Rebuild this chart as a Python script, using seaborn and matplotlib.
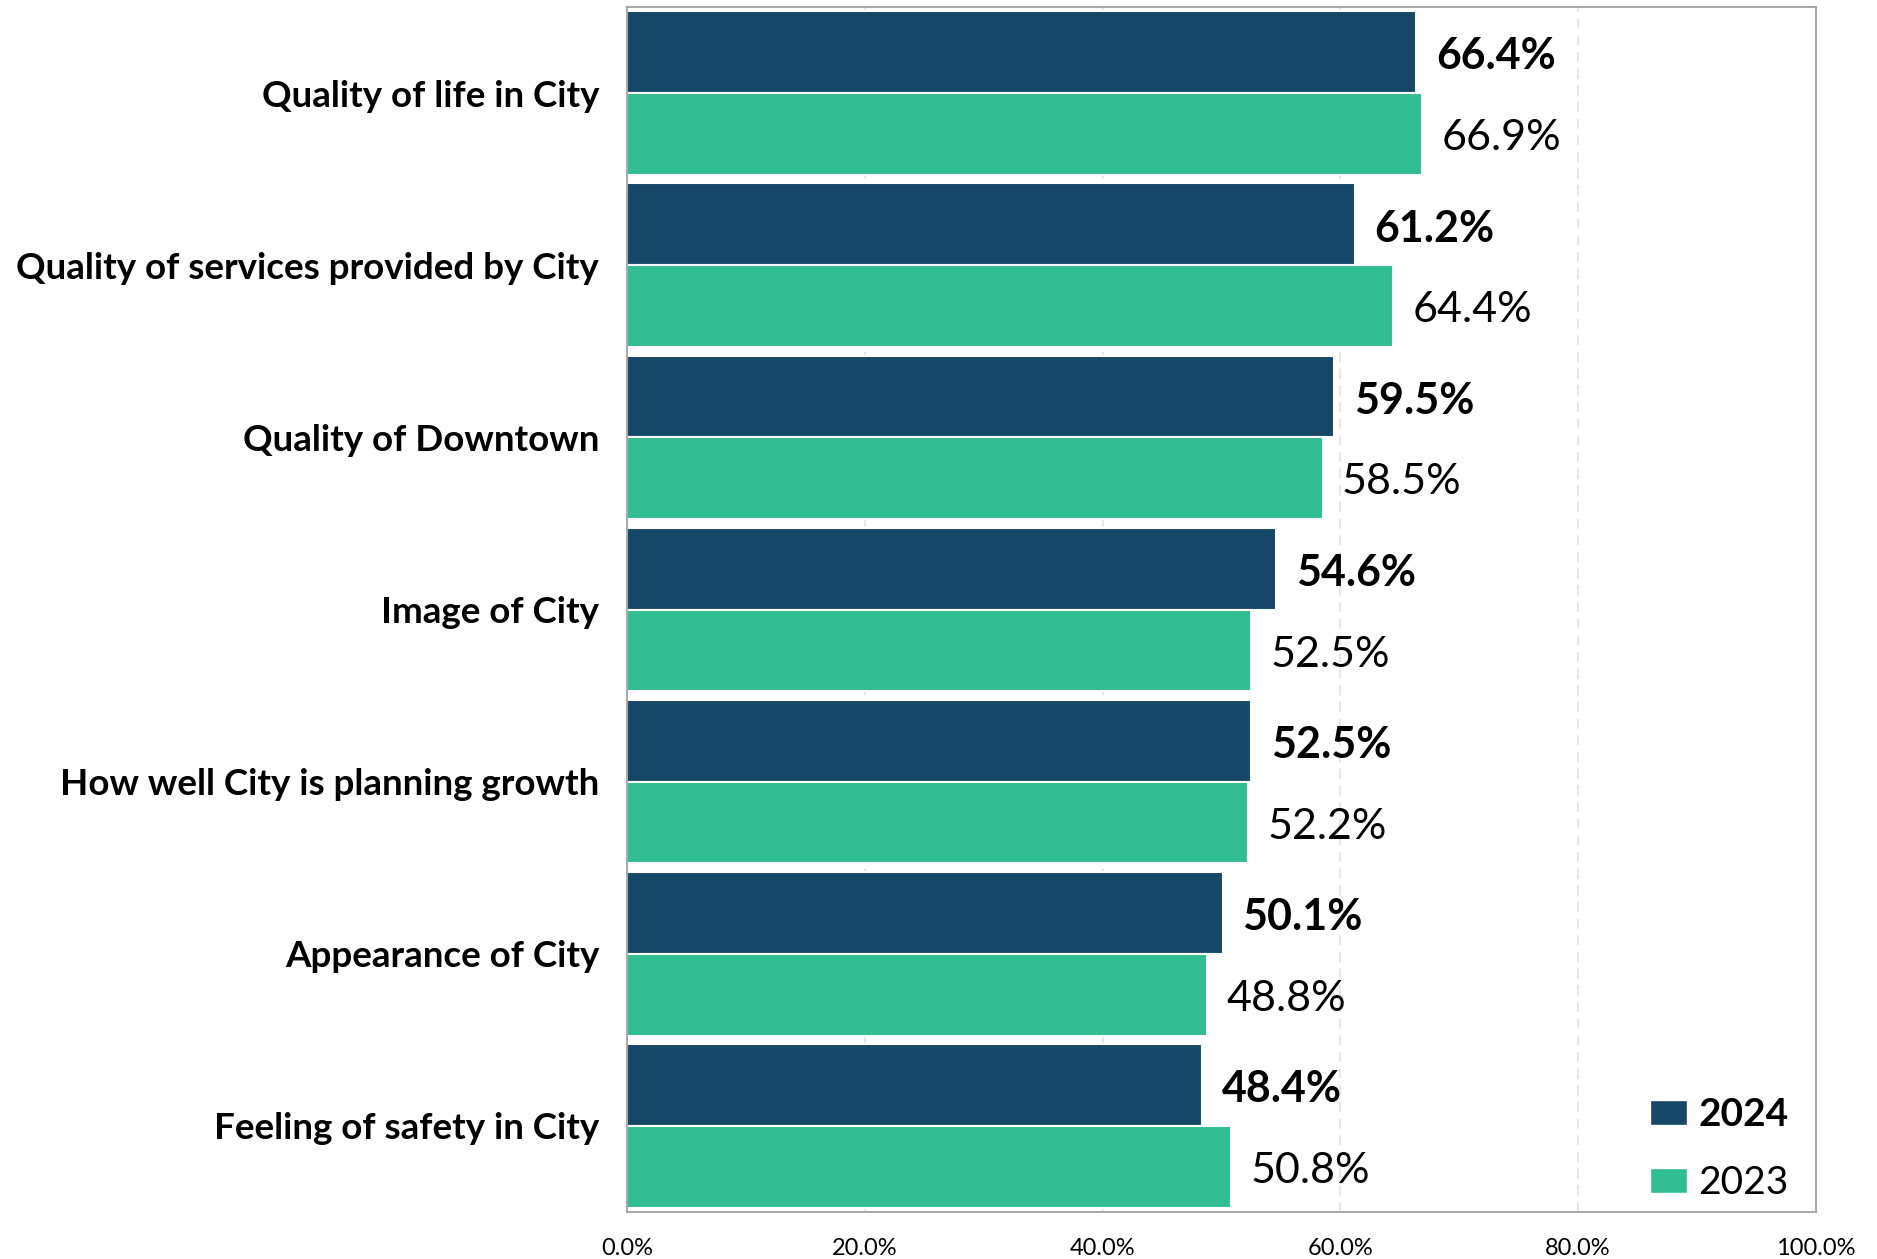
import matplotlib
matplotlib.use("Agg")
import matplotlib.pyplot as plt
import seaborn as sns
import pandas as pd
from matplotlib.patches import Patch

categories = ["Quality of life in City", "Quality of services provided by City",
              "Quality of Downtown", "Image of City", "How well City is planning growth",
              "Appearance of City", "Feeling of safety in City"]
values_2024 = [66.4, 61.2, 59.5, 54.6, 52.5, 50.1, 48.4]
values_2023 = [66.9, 64.4, 58.5, 52.5, 52.2, 48.8, 50.8]
years = ["2024", "2023"]
xticks = [0, 20, 40, 60, 80, 100]

sns.set_theme(style="white")
plt.rcParams['font.family'] = ['Lato', 'DejaVu Sans']
plt.rcParams['text.color'] = 'black'
plt.rcParams['xtick.color'] = 'black'
plt.rcParams['ytick.color'] = 'black'

df = pd.DataFrame({
    "category": categories * 2,
    "value": values_2024 + values_2023,
    "year": [years[0]] * len(categories) + [years[1]] * len(categories),
})

colors = {"2024": "#154766", "2023": "#31BD92"}

fig = plt.figure(figsize=(18.77, 12.59), dpi=100)
ax = fig.add_axes([0.334, 0.0373, 0.6335, 0.9571])

sns.barplot(data=df, y="category", x="value", hue="year", hue_order=years,
            palette=colors, orient="h", width=0.95, dodge=True, ax=ax,
            edgecolor="white", linewidth=1.5, legend=False, saturation=1)

ax.set_xlim(0, 100)
ax.set_ylim(len(categories) - 0.5, -0.5)
ax.set_xticks(xticks)
ax.set_xticklabels([f"{t:.1f}%" for t in xticks], fontsize=17, color="black")
ax.tick_params(axis="x", length=0, pad=19)
ax.tick_params(axis="y", length=0, pad=20)
for lab in ax.get_yticklabels():
    lab.set_fontsize(26.5)
    lab.set_fontweight("bold")
    lab.set_color("black")
ax.set_xlabel("")
ax.set_ylabel("")

for x in xticks[1:-1]:
    ax.axvline(x, color="#e3e3e3", linestyle=(0, (6, 4)), linewidth=1.2, zorder=0)

for sp in ax.spines.values():
    sp.set_color("#a0a0a0")
    sp.set_linewidth(1.3)

for i, cont in enumerate(ax.containers):
    weight = "bold" if i == 0 else "normal"
    for patch, v in zip(cont.patches, cont.datavalues):
        yc = patch.get_y() + patch.get_height() / 2
        ax.annotate(f"{v:.1f}%", xy=(patch.get_width(), yc), xytext=(14, -3),
                    textcoords="offset points", va="center", ha="left",
                    fontsize=31, fontweight=weight, color="black")

handles = [Patch(facecolor=colors[y], edgecolor="white") for y in years]
leg = ax.legend(handles, years, loc="lower right", frameon=False, fontsize=28,
                handlelength=0.95, handleheight=0.6, labelspacing=0.85,
                handletextpad=0.3, borderaxespad=0.0,
                bbox_to_anchor=(0.99, -0.004))
for t in leg.get_texts():
    t.set_color("black")
leg.get_texts()[0].set_fontweight("bold")

fig.savefig("out.png", dpi=100)
